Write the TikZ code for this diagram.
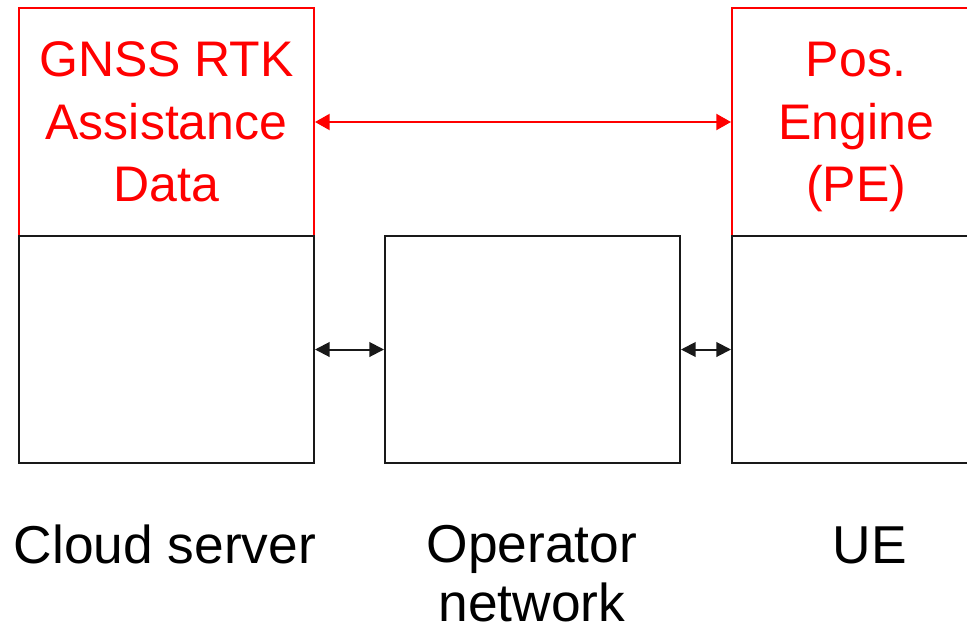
\documentclass[tikz,border=0pt]{standalone}
\usepackage{fontspec}
\setmainfont{Liberation Sans}
\usetikzlibrary{arrows.meta}
\definecolor{pered}{RGB}{255,0,0}
\begin{document}
\begin{tikzpicture}[x=0.75pt,y=-0.75pt,
  redbox/.style={draw=pered,line width=1.5pt,text=pered,inner sep=0pt,
    anchor=north west,align=center,font=\fontsize{37.5}{47}\selectfont},
  blkbox/.style={draw=black!90,line width=1.5pt,inner sep=0pt,anchor=north west},
  caption/.style={font=\fontsize{40}{44}\selectfont,align=center,anchor=base,inner sep=0pt},
  redlink/.style={pered,line width=1.5pt,
    {Triangle[length=11pt,width=12pt]}-{Triangle[length=11pt,width=12pt]}},
  blklink/.style={black!90,line width=1.5pt,
    {Triangle[length=11pt,width=11pt]}-{Triangle[length=11pt,width=11pt]}}]
  \useasboundingbox (0,0) rectangle (967,628);
  \clip (0,0) rectangle (967,628);
  % cloud server: assistance data on top, server body below
  \node[redbox,minimum width=295*0.75pt,minimum height=228*0.75pt] (gnss) at (18,7)
    {GNSS RTK\\Assistance\\Data};
  \node[blkbox,minimum width=295*0.75pt,minimum height=227*0.75pt] (cloud) at (18,235) {};
  % operator network
  \node[blkbox,minimum width=295*0.75pt,minimum height=227*0.75pt] (oper) at (384,235) {};
  % UE with its positioning engine
  \node[redbox,minimum width=248*0.75pt,minimum height=228*0.75pt] (pe) at (731,7)
    {Pos.\\Engine\\\raisebox{0pt}[\height][0pt]{(PE)}};
  \node[blkbox,minimum width=248*0.75pt,minimum height=227*0.75pt] (ue) at (731,235) {};
  % links
  \draw[redlink] (gnss.east) -- (pe.west);
  \draw[blklink] (cloud.east) -- (oper.west);
  \draw[blklink] (oper.east) -- (ue.west);
  % captions
  \node[caption] (cloudlbl) at (165,563) {Cloud server};
  \node[caption] (operlbl) at (532,621) {Operator\\network};
  \node[caption] (uelbl) at (870,563) {UE};
\end{tikzpicture}
\end{document}
